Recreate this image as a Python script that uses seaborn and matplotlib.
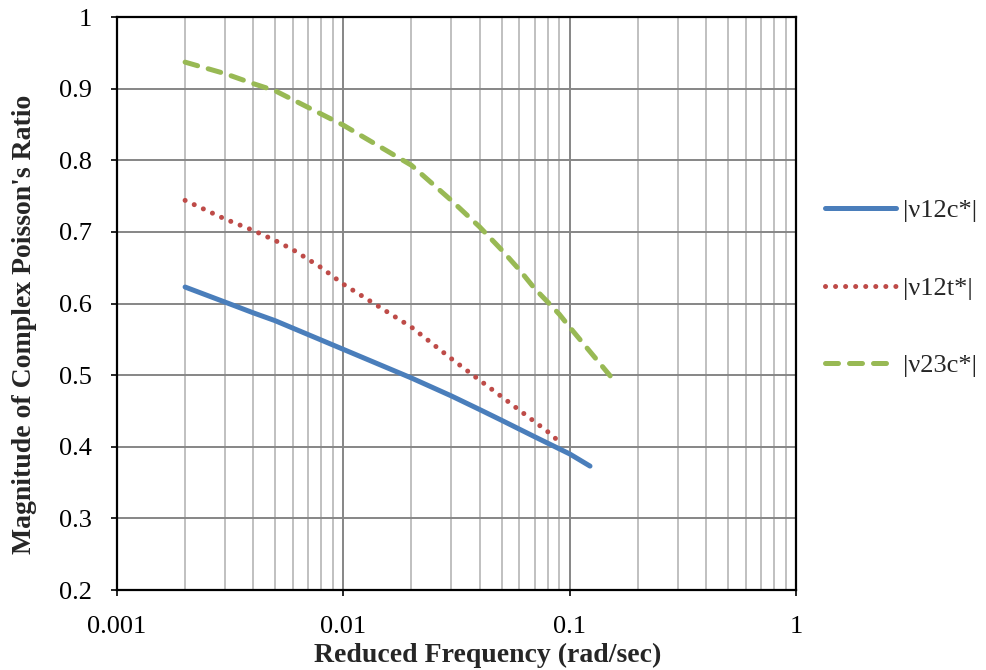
import numpy as np
import pandas as pd
import matplotlib
matplotlib.use("Agg")
import matplotlib.pyplot as plt
import seaborn as sns
from matplotlib.ticker import LogLocator, FixedLocator, NullFormatter, FuncFormatter

# Reduced frequency (rad/sec) and magnitude of complex Poisson's ratio
freq_v12c = [0.002, 0.003, 0.004, 0.005, 0.01, 0.02, 0.03, 0.04, 0.05, 0.07, 0.1, 0.123]
mag_v12c = [0.623, 0.602, 0.587, 0.576, 0.536, 0.496, 0.471, 0.452, 0.437, 0.414, 0.390, 0.373]

freq_v12t = [0.002, 0.003, 0.004, 0.005, 0.006, 0.008, 0.01, 0.02, 0.03, 0.04,
             0.05, 0.06, 0.07, 0.08, 0.09]
mag_v12t = [0.744, 0.718, 0.702, 0.688, 0.675, 0.650, 0.627, 0.567, 0.523, 0.493,
            0.470, 0.451, 0.435, 0.421, 0.407]

freq_v23c = [0.002, 0.003, 0.004, 0.005, 0.01, 0.02, 0.03, 0.04, 0.05, 0.06, 0.07,
             0.08, 0.09, 0.1, 0.151]
mag_v23c = [0.937, 0.921, 0.907, 0.897, 0.849, 0.793, 0.744, 0.707, 0.675, 0.647, 0.621,
            0.602, 0.585, 0.567, 0.499]

labels = ["|ν12c*|", "|ν12t*|", "|ν23c*|"]
colors = ["#4A7EBB", "#BE4B48", "#98B954"]

x_ticks = [0.001, 0.01, 0.1, 1]
y_ticks = [0.2, 0.3, 0.4, 0.5, 0.6, 0.7, 0.8, 0.9, 1.0]

sns.set_theme(style="white")
plt.rcParams["font.family"] = ["Liberation Serif", "DejaVu Serif"]

fig = plt.figure(figsize=(9.87, 6.70), dpi=100)
ax = fig.add_axes([0.1185, 0.1194, 0.688, 0.8552])

series = [(freq_v12c, mag_v12c), (freq_v12t, mag_v12t), (freq_v23c, mag_v23c)]
frames = [pd.DataFrame({"freq": f, "mag": m, "series": lab})
          for (f, m), lab in zip(series, labels)]
df = pd.concat(frames, ignore_index=True)

styles = {
    labels[0]: dict(linestyle="-", linewidth=3.6, solid_capstyle="round"),
    labels[1]: dict(linestyle=(0, (0.01, 2.0)), linewidth=3.6, dash_capstyle="round"),
    labels[2]: dict(linestyle=(0, (2.6, 2.2)), linewidth=3.6, dash_capstyle="round"),
}

for lab, col in zip(labels, colors):
    sub = df[df["series"] == lab]
    sns.lineplot(data=sub, x="freq", y="mag", ax=ax, color=col, label=lab,
                 estimator=None, sort=False, **styles[lab])

ax.set_xscale("log")
ax.set_xlim(0.001, 1)
ax.set_ylim(0.2, 1.0)

ax.xaxis.set_major_locator(FixedLocator(x_ticks))
ax.xaxis.set_minor_locator(LogLocator(base=10, subs=np.arange(2, 10)))
ax.xaxis.set_minor_formatter(NullFormatter())
ax.xaxis.set_major_formatter(FuncFormatter(lambda v, p: f"{v:g}"))
ax.yaxis.set_major_locator(FixedLocator(y_ticks))
ax.yaxis.set_major_formatter(FuncFormatter(lambda v, p: f"{v:g}"))

ax.grid(which="major", axis="both", color="#868686", linewidth=1.4)
ax.grid(which="minor", axis="x", color="#c0c0c0", linewidth=1.4)
ax.set_axisbelow(True)

for s in ax.spines.values():
    s.set_color("black")
    s.set_linewidth(1.6)

ax.tick_params(axis="both", which="major", labelsize=19, colors="black",
               length=4, width=1.2, direction="out")
ax.tick_params(axis="x", which="major", pad=15, bottom=True)
ax.tick_params(axis="y", which="major", pad=14, left=True)
ax.tick_params(axis="x", which="minor", length=0)

ax.set_xlabel("Reduced Frequency (rad/sec)", fontsize=20, fontweight="bold")
ax.set_ylabel("Magnitude of Complex Poisson's Ratio", fontsize=20, fontweight="bold")
ax.xaxis.label.set_va("center")
ax.yaxis.label.set_va("center")
ax.xaxis.set_label_coords(0.546, -0.1134)
ax.yaxis.set_label_coords(-0.1355, 0.464)

leg = ax.legend(loc="center left", bbox_to_anchor=(1.008, 0.527), frameon=False,
                fontsize=19, handlelength=2.7, labelspacing=2.05, handletextpad=0.25)

fig.savefig("out.png", dpi=100)
